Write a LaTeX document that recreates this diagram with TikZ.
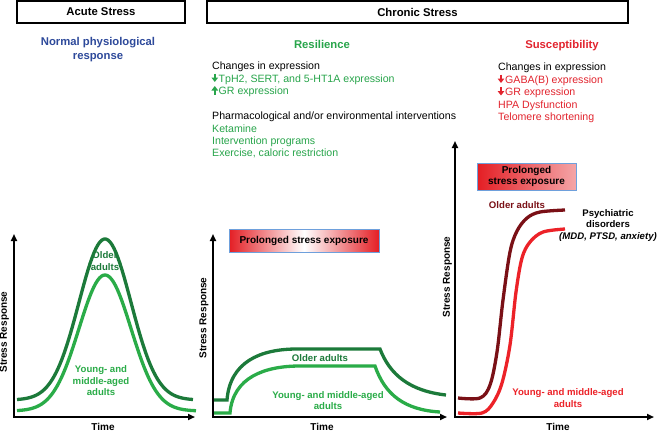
\documentclass[tikz,border=0pt]{standalone}
\usepackage{fontspec}
\setmainfont{Liberation Sans}
\usetikzlibrary{arrows.meta}
\definecolor{blueT}{RGB}{46,74,155}
\definecolor{greenT}{RGB}{40,165,75}
\definecolor{darkG}{RGB}{28,122,58}
\definecolor{lightG}{RGB}{42,172,72}
\definecolor{redT}{RGB}{226,36,46}
\definecolor{darkR}{RGB}{122,16,22}
\definecolor{redL}{RGB}{236,34,40}
\definecolor{boxblue}{RGB}{110,160,220}
\definecolor{boxred}{RGB}{228,30,36}
\begin{document}
\begin{tikzpicture}[x=1pt,y=-1pt,
  hdbox/.style={draw, line width=1.3pt, minimum height=22pt, inner sep=0pt, font=\fontsize{11.3}{13}\selectfont\bfseries},
  hd/.style={inner sep=0pt, align=center, font=\fontsize{11.3}{14}\selectfont\bfseries},
  body/.style={inner sep=0pt, anchor=base west, font=\fontsize{10.6}{12}\selectfont},
  lab/.style={inner sep=0pt, align=center, font=\fontsize{9.6}{11.5}\selectfont\bfseries},
  axlab/.style={inner sep=0pt, font=\fontsize{10}{12}\selectfont\bfseries},
  axis/.style={line width=1.7pt, {Triangle[width=6pt,length=7pt]}-{Triangle[width=6pt,length=7pt]}},
  curve/.style={line width=3.3pt},
  updn/.style={line width=1.9pt, -{Triangle[width=6.5pt,length=4.5pt]}},
  pse/.style={draw=boxblue, line width=0.8pt, inner sep=0pt, align=center, font=\fontsize{10}{11}\selectfont\bfseries}
]
\useasboundingbox (0,0) rectangle (657,432);
\fill[white] (0,0) rectangle (657,432);

% header boxes
\node[hdbox, minimum width=168pt] (acute) at (101,12) {Acute Stress};
\node[hdbox, minimum width=421pt] (chronic) at (417.5,12) {Chronic Stress};

% headings
\node[hd, text=blueT] (normal) at (98,50) {Normal physiological\\response};
\node[hd, text=greenT, anchor=base] (resil) at (322,48) {Resilience};
\node[hd, text=redT, anchor=base] (susc) at (562,48) {Susceptibility};

% resilience text
\node[body] (r1) at (212,69) {Changes in expression};
\draw[updn, greenT] (214.8,73.5) -- (214.8,82);
\node[body, text=greenT] (r2) at (218.5,82) {TpH2, SERT, and 5-HT1A expression};
\draw[updn, greenT] (214.8,94.5) -- (214.8,86);
\node[body, text=greenT] (r3) at (218.5,94.5) {GR expression};
\node[body] (r4) at (212,119.5) {Pharmacological and/or environmental interventions};
\node[body, text=greenT] (r5) at (212,132) {Ketamine};
\node[body, text=greenT] (r6) at (212,144) {Intervention programs};
\node[body, text=greenT] (r7) at (212,156.5) {Exercise, caloric restriction};

% susceptibility text
\node[body] (s1) at (498,70) {Changes in expression};
\draw[updn, redT] (501,74.5) -- (501,83);
\node[body, text=redT] (s2) at (505,83) {GABA(B) expression};
\draw[updn, redT] (501,87) -- (501,95.5);
\node[body, text=redT] (s3) at (505,95.5) {GR expression};
\node[body, text=redT] (s4) at (498,108) {HPA Dysfunction};
\node[body, text=redT] (s5) at (498,120.5) {Telomere shortening};

% ---------- acute panel ----------
\coordinate (a0) at (14,417);
\coordinate (ay) at (14,234);
\coordinate (ax) at (195,417);
\draw[curve, darkG] plot[domain=17:193, samples=90] (\x,{400-161*exp(-((\x-105)^2)/1352)});
\draw[curve, lightG] plot[domain=17:196, samples=90] (\x,{411-136*exp(-((\x-105)^2)/1352)});
\draw[axis] (ay) -- (a0) -- (ax);
\node[lab, text=darkG] (aold) at (105,261) {Older\\adults};
\node[lab, text=lightG] (ayoung) at (101,381) {Young- and\\middle-aged\\adults};
\node[axlab] (atime) at (103,427) {Time};
\node[axlab, rotate=90] (asr) at (4.5,332) {Stress Response};

% ---------- chronic resilience panel ----------
\coordinate (b0) at (213,417);
\coordinate (by) at (213,234);
\coordinate (bx) at (447,417);
\node[pse, left color=boxred, right color=boxred, middle color=white, minimum width=150pt, minimum height=23pt] (pse1) at (304,240.5) {Prolonged stress exposure};
\draw[curve, darkG] (213,400) -- (227,400) .. controls (230,362) and (260,349) .. (297,349) -- (380,349) .. controls (390,375) and (410,391) .. (446,395);
\draw[curve, lightG] (213,413) -- (230,413) .. controls (233,377) and (265,366) .. (300,366) -- (375,366) .. controls (385,395) and (405,410) .. (440,412);
\draw[axis] (by) -- (b0) -- (bx);
\node[lab, text=darkG] (bold) at (320,358.5) {Older adults};
\node[lab, text=lightG] (byoung) at (328,400.5) {Young- and middle-aged\\adults};
\node[axlab] (btime) at (322,427) {Time};
\node[axlab, rotate=90] (bsr) at (204,318) {Stress Response};

% ---------- chronic susceptibility panel ----------
\coordinate (c0) at (455,417);
\coordinate (cy) at (455,141);
\coordinate (cx) at (654,417);
\node[pse, left color=boxred, right color=boxred!40!white, minimum width=99pt, minimum height=27pt] (pse2) at (526.5,176.5) {Prolonged\\stress exposure};
\draw[curve, darkR] plot[smooth, tension=0.55] coordinates {(458,398) (480,398) (490,385) (497,352) (503,300) (510,252) (517,231) (527,218) (540,212) (565,210)};
\draw[curve, redL] plot[smooth, tension=0.55] coordinates {(458,413) (482,413) (493,403) (502,383) (510,345) (516,292) (522,258) (530,242) (543,232) (565,229)};
\draw[axis] (cy) -- (c0) -- (cx);
\node[lab, text=darkR] (cold) at (517,205) {Older adults};
\node[lab, anchor=west] (psy) at (559,225.5) {Psychiatric\\disorders\\\textit{(MDD, PTSD, anxiety)}};
\node[lab, text=redL] (cyoung) at (568,398) {Young- and middle-aged\\adults};
\node[axlab] (ctime) at (558,427) {Time};
\node[axlab, rotate=90] (csr) at (447.5,277) {Stress Response};
\end{tikzpicture}
\end{document}
